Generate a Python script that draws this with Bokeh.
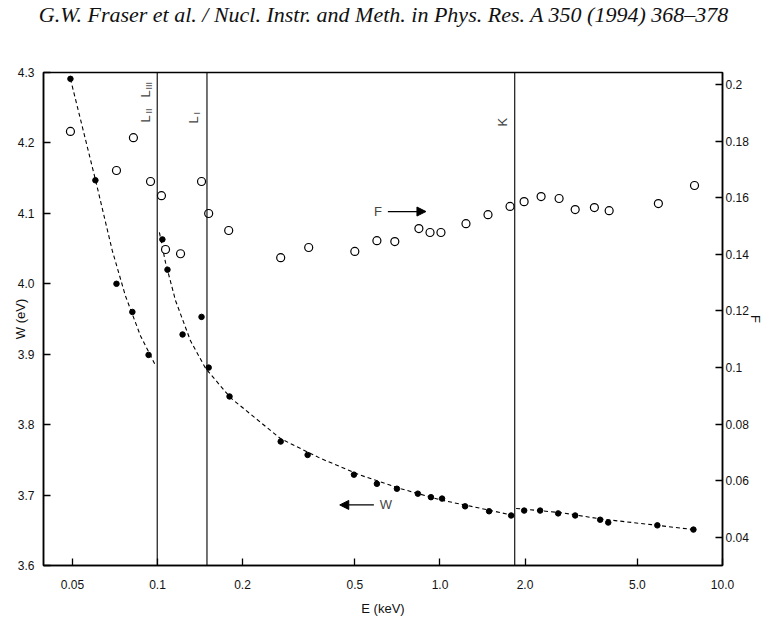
from math import pi

from bokeh.embed import file_html
from bokeh.layouts import column
from bokeh.models import (Arrow, Div, FixedTicker, Label, LinearAxis,
                          NormalHead, Range1d, Span)
from bokeh.plotting import figure
from bokeh.resources import INLINE

# Mean ionisation energy W (eV) measured in silicon versus photon energy E (keV)
w_energy = [0.0492, 0.0603, 0.0716, 0.0815, 0.093,
            0.1041, 0.1085, 0.1227, 0.1432, 0.1518, 0.1799, 0.273, 0.340,
            0.496, 0.598, 0.704, 0.835, 0.929, 1.017, 1.227, 1.492, 1.786,
            1.986, 2.262, 2.62, 3.01, 3.69, 3.94, 5.88, 7.89]
w_value = [4.291, 4.147, 4.000, 3.960, 3.899,
           4.063, 4.020, 3.928, 3.953, 3.881, 3.840, 3.776, 3.757,
           3.729, 3.716, 3.709, 3.702, 3.697, 3.695, 3.684, 3.677, 3.671,
           3.678, 3.678, 3.674, 3.671, 3.665, 3.661, 3.657, 3.651]

# Fano factor F
f_energy = [0.0492, 0.0716, 0.0822, 0.0945, 0.1033, 0.1068, 0.1207, 0.1432,
            0.1518, 0.1787, 0.273, 0.343, 0.4995, 0.598, 0.692, 0.842, 0.922,
            1.008, 1.236, 1.479, 1.77, 1.985, 2.28, 2.64, 3.01, 3.52, 3.97,
            5.93, 7.96]
f_value = [0.1834, 0.1696, 0.1812, 0.1657, 0.1607, 0.1417, 0.1402, 0.1657,
           0.1544, 0.1484, 0.1388, 0.1424, 0.1410, 0.1448, 0.1445, 0.1491,
           0.1477, 0.1477, 0.1508, 0.1540, 0.1569, 0.1586, 0.1604, 0.1597,
           0.1558, 0.1565, 0.1554, 0.1579, 0.1643]

# Smooth W curves, one per region between absorption edges
curve1_energy = [0.0492, 0.0603, 0.0692, 0.0770, 0.0871, 0.0984]
curve1_value = [4.291, 4.148, 4.047, 3.983, 3.926, 3.884]
curve2_energy = [0.1016, 0.1068, 0.1159, 0.1309, 0.148, 0.1815, 0.273, 0.378,
                 0.525, 0.727, 1.008, 1.398, 1.829]
curve2_value = [4.073, 4.030, 3.976, 3.919, 3.880, 3.838, 3.780, 3.752,
                3.728, 3.709, 3.693, 3.681, 3.671]
curve3_energy = [1.86, 2.685, 3.72, 5.6, 7.89]
curve3_value = [3.681, 3.675, 3.666, 3.658, 3.651]

# Si absorption edges (keV)
edge_energy = [0.0998, 0.1497, 1.839]

x_ticks = [0.05, 0.1, 0.2, 0.5, 1.0, 2.0, 5.0, 10.0]
x_tick_labels = ["0.05", "0.1", "0.2", "0.5", "1.0", "2.0", "5.0", "10.0"]
w_ticks = [3.6, 3.7, 3.8, 3.9, 4.0, 4.1, 4.2, 4.3]
w_tick_labels = ["3.6", "3.7", "3.8", "3.9", "4.0", "4.1", "4.2", "4.3"]
f_ticks = [0.04, 0.06, 0.08, 0.10, 0.12, 0.14, 0.16, 0.18, 0.20]
f_tick_labels = ["0.04", "0.06", "0.08", "0.1", "0.12", "0.14", "0.16", "0.18", "0.2"]

header_text = "G.W. Fraser et al. / Nucl. Instr. and Meth. in Phys. Res. A 350 (1994) 368\u2013378"

SANS = "Liberation Sans"
HEADER_H = 30

header = Div(text=header_text, width=767, height=HEADER_H, margin=0,
             styles={"font-family": "'Liberation Serif'", "font-style": "italic",
                     "font-size": "22px", "line-height": f"{HEADER_H}px",
                     "text-align": "center", "color": "#111111",
                     "width": "767px", "white-space": "nowrap",
                     "background": "white"})

p = figure(width=767, height=620 - HEADER_H, x_axis_type="log",
           x_range=Range1d(0.0395, 10.0), y_range=Range1d(3.6, 4.3),
           output_backend="svg", toolbar_location=None,
           min_border_left=43, min_border_right=45,
           min_border_top=72 - HEADER_H, min_border_bottom=55,
           background_fill_color="white", border_fill_color="white",
           margin=0)

p.extra_y_ranges = {"F": Range1d(0.0301, 0.2042)}
p.xgrid.visible = False
p.ygrid.visible = False
p.outline_line_color = "black"
p.outline_line_width = 1.5


def style_axis(ax, standoff, title, title_standoff):
    ax.axis_line_color = "black"
    ax.axis_line_width = 1.5
    ax.major_tick_in = 7
    ax.major_tick_out = 0
    ax.minor_tick_in = 0
    ax.minor_tick_out = 0
    ax.major_tick_line_width = 1.3
    ax.major_label_standoff = standoff
    ax.major_label_text_font = SANS
    ax.major_label_text_font_size = "12px"
    ax.major_label_text_color = "#111111"
    ax.axis_label = title
    ax.axis_label_standoff = title_standoff
    ax.axis_label_text_font = SANS
    ax.axis_label_text_font_style = "normal"
    ax.axis_label_text_font_size = "13px"
    ax.axis_label_text_color = "#111111"


xa = p.xaxis[0]
xa.ticker = FixedTicker(ticks=x_ticks)
xa.major_label_overrides = dict(zip(x_ticks, x_tick_labels))
style_axis(xa, 14, "E (keV)", 9)

ya = p.yaxis[0]
ya.ticker = FixedTicker(ticks=w_ticks)
ya.major_label_overrides = dict(zip(w_ticks, w_tick_labels))
style_axis(ya, 9, "W (eV)", -13)

fa = LinearAxis(y_range_name="F", ticker=FixedTicker(ticks=f_ticks),
                major_label_overrides=dict(zip(f_ticks, f_tick_labels)))
style_axis(fa, 3, "F", -4)
p.add_layout(fa, "right")

# absorption edges
for e in edge_energy:
    p.add_layout(Span(location=e, dimension="height", line_color="black",
                      line_width=1.1))

# fitted W curves
for xs, ys in [(curve1_energy, curve1_value), (curve2_energy, curve2_value),
               (curve3_energy, curve3_value)]:
    p.line(xs, ys, line_color="black", line_width=1.1, line_dash="4 3")

p.scatter(w_energy, w_value, marker="circle", size=5.5,
          fill_color="black", line_color="black")
p.scatter(f_energy, f_value, y_range_name="F", marker="circle", size=8,
          fill_color="white", line_color="black", line_width=1.2)

# series pointers
p.add_layout(Arrow(x_start=0.654, y_start=0.1551, x_end=0.892, y_end=0.1551,
                   y_range_name="F", line_width=1.2,
                   end=NormalHead(size=9, fill_color="black", line_color="black")))
p.add_layout(Label(x=0.603, y=0.1551, y_range_name="F", text="F",
                   text_font=SANS, text_font_size="13px",
                   text_align="center", text_baseline="middle"))
p.add_layout(Arrow(x_start=0.5835, y_start=3.686, x_end=0.4418, y_end=3.686,
                   line_width=1.2,
                   end=NormalHead(size=9, fill_color="black", line_color="black")))
p.add_layout(Label(x=0.612, y=3.686, text="W", text_font=SANS,
                   text_font_size="13px", text_align="left",
                   text_baseline="middle"))


def edge_label(x, sy, text, size, dx):
    # name of an absorption edge, written upward beside its line
    p.add_layout(Label(x=x, y=sy, y_units="screen", x_offset=dx, text=text,
                       angle=pi / 2, text_font=SANS,
                       text_font_size=size, text_align="left",
                       text_baseline="bottom"))


edge_label(edge_energy[0], 565 - 97, "L", "13px", -4)
edge_label(edge_energy[0], 565 - 89, "III", "9px", -3)
edge_label(edge_energy[0], 565 - 122, "L", "13px", -4)
edge_label(edge_energy[0], 565 - 113, "II", "9px", -3)
edge_label(edge_energy[1], 565 - 123, "L", "13px", -6)
edge_label(edge_energy[1], 565 - 114, "I", "9px", -5)
edge_label(edge_energy[2], 565 - 126, "K", "13px", -5)

layout = column(header, p, spacing=0, margin=0)

open("out.html", "w").write(file_html(layout, INLINE))
